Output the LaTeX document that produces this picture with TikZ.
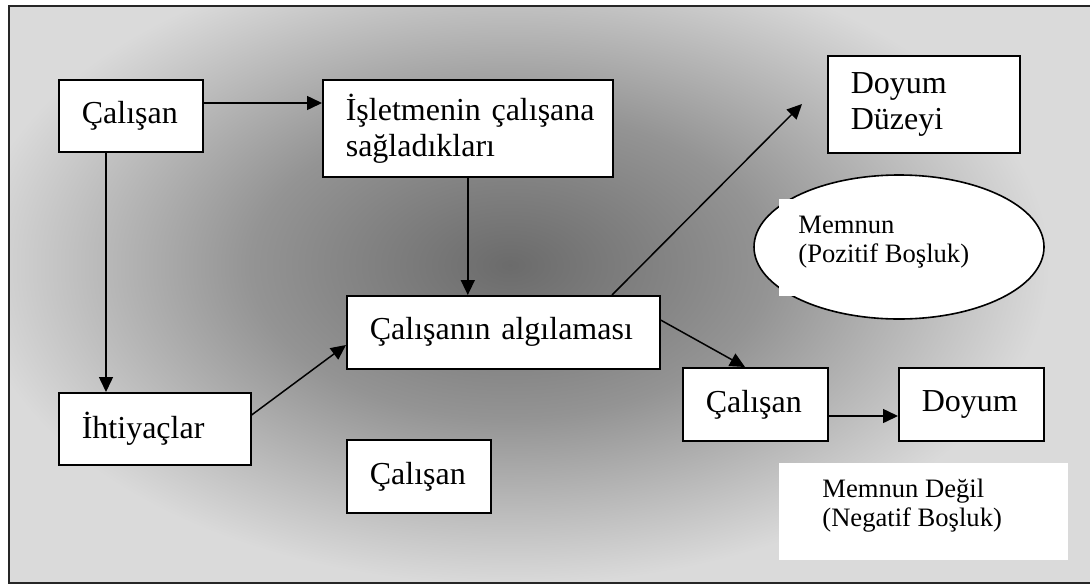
\documentclass[tikz,border=0pt]{standalone}
\usepackage{fontspec}
\setmainfont{Liberation Serif}
\usetikzlibrary{shapes.geometric,arrows.meta,calc}

\definecolor{glowcore}{gray}{0.42}
\definecolor{glowmid}{gray}{0.58}
\definecolor{glowedge}{gray}{0.855}
\pgfdeclareradialshading{backglow}{\pgfpoint{0bp}{0bp}}{%
  color(0bp)=(glowcore); color(12bp)=(glowmid); color(25bp)=(glowedge); color(50bp)=(glowedge)}

\newcommand\dgboxfont{\fontsize{16pt}{18pt}\selectfont}
\newcommand\dgnotefont{\fontsize{13.3pt}{14.5pt}\selectfont}

\tikzset{
  box/.style={draw=black, line width=0.8pt, fill=white, anchor=north west,
    align=left, inner xsep=11.5pt, inner ysep=0pt, font=\dgboxfont},
  note/.style={fill=white, anchor=north west, inner sep=0pt},
  notetext/.style={anchor=north west, align=left, inner sep=0pt, font=\dgnotefont},
  link/.style={line width=0.75pt, -{Triangle[length=7.5pt,width=7pt]}},
}

\begin{document}
\begin{tikzpicture}[x=0.5pt, y=-0.5pt]
\useasboundingbox (0,0) rectangle (1090,584);
\fill[white] (0,0) rectangle (1090,584);

% shaded backdrop and frame
\begin{scope}
  \clip (0,0) rectangle (1090,584);
  \fill[glowedge] (9,6) rectangle (1100,583);
  \begin{scope}
    \clip (9,6) rectangle (1100,583);
    \shade[shading=backglow] (510,265) ellipse [x radius=540, y radius=320];
  \end{scope}
  \draw[line width=1pt, black!85] (9,6) rectangle (1100,583);
\end{scope}

% boxes
\node[box, minimum width=72pt, minimum height=36pt, text width=49pt] (c1) at (58,79) {Çalışan};
\node[box, minimum width=145pt, minimum height=48.5pt, text width=122pt] (isl) at (322,79)
  {\mbox{İşletmenin çalışana}\\sağladıkları};
\node[box, minimum width=96pt, minimum height=48.5pt, text width=73pt] (dd) at (827,55)
  {Doyum\\Düzeyi};
\node[box, minimum width=96pt, minimum height=36pt, text width=73pt] (iht) at (58,392) {İhtiyaçlar};
\node[box, minimum width=156.5pt, minimum height=36.5pt, text width=133.5pt] (alg) at (346,295)
  {Çalışanın algılaması};
\node[box, minimum width=72pt, minimum height=36.5pt, text width=49pt] (c3) at (346,439) {Çalışan};
\node[box, minimum width=72.5pt, minimum height=36.5pt, text width=49.5pt] (c2) at (682,367) {Çalışan};
\node[box, minimum width=72.5pt, minimum height=36.5pt, text width=49.5pt] (doy) at (898,367) {Doyum};

% satisfied area
\node[ellipse, draw=black, line width=0.8pt, fill=white, inner sep=0pt,
  minimum width=145pt, minimum height=72pt] (mell) at (899,247) {};
\node[note, minimum width=109pt, minimum height=48.5pt] (mrect) at (779,199) {};
\node[notetext] (mtext) at (798,216) {Memnun\\(Pozitif Boşluk)};

% dissatisfied area
\node[note, minimum width=144.5pt, minimum height=48.5pt] (nrect) at (779,463) {};
\node[notetext] (ntext) at (822,479) {Memnun Değil\\(Negatif Boşluk)};

% connectors
\coordinate (dtip) at (802,104);
\draw[link] ([yshift=-12pt]c1.north east) -- ([yshift=-12pt]isl.north west);
\draw[link] ([xshift=24pt]c1.south west) -- ([xshift=24pt]iht.north west);
\draw[link] ([yshift=-11.5pt]iht.north east) -- ([yshift=-25pt]alg.north west);
\draw[link] (isl.south) -- (isl.south |- alg.north);
\draw[link] ([xshift=133pt]alg.north west) -- (dtip);
\draw[link] ([yshift=-12.5pt]alg.north east) -- ([xshift=31.5pt]c2.north west);
\draw[link] ([yshift=-24.5pt]c2.north east) -- ([yshift=-24.5pt]doy.north west);
\end{tikzpicture}
\end{document}
